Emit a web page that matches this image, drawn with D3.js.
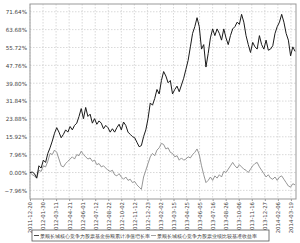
<!DOCTYPE html>
<html>
<head>
<meta charset="utf-8">
<script src="https://cdn.jsdelivr.net/npm/d3@7"></script>
<style>
body { margin: 0; background: #fff; }
text { font-family: "DejaVu Sans", sans-serif; }
</style>
</head>
<body>
<script>
var width = 300;
var height = 243;

// tick labels
var yTicks = [-7.96, 0, 7.96, 15.92, 23.88, 31.84, 39.80, 47.76, 55.72, 63.68, 71.64];
var xTicks = ["2011-12-20", "2012-01-30", "2012-03-11", "2012-04-21", "2012-06-01",
              "2012-07-12", "2012-08-22", "2012-10-02", "2012-11-12", "2012-12-23",
              "2013-02-02", "2013-03-15", "2013-04-25", "2013-06-05", "2013-07-16",
              "2013-08-26", "2013-10-06", "2013-11-16", "2013-12-27", "2014-02-06",
              "2014-03-19"];
var seriesNames = ["景顺长城核心竞争力股票基金份额累计净值增长率",
                   "景顺长城核心竞争力股票业绩比较基准收益率"];

// weekly readings (%), starting 2011-12-20
var fundValues = [0, 0.2, -0.5, -2.5, 3, 2, 5.5, 4.5, 8.5, 11,
                  14, 17.5, 20, 18, 15.5, 17, 19, 18, 20.5, 19,
                  21, 22, 25, 28.5, 24, 29, 25, 26, 22, 24,
                  21.5, 23, 22, 19.5, 21, 20, 18, 19.5, 18, 20,
                  21.5, 19, 22.5, 21, 18, 17, 16, 15.5, 13.5, 11.5,
                  12, 16, 19, 24, 31, 30, 33, 37, 35, 41,
                  45, 43, 40, 41, 35, 37, 38.5, 36, 39, 42,
                  46, 50, 56, 62, 65, 69, 65, 55, 57, 47,
                  53, 60, 64, 61, 64, 62, 59, 64, 60, 57,
                  61, 64, 65, 67, 66, 70.5, 67, 61, 57, 53.5,
                  58, 56, 55, 61, 57, 55, 59, 54.5, 55, 56.5,
                  62, 65, 67, 70.5, 67, 62, 59, 52, 56, 54];
var benchValues = [0, -1, -1.5, -2.5, 1, 0.5, 3, 2.5, 5, 8.5,
                   8, 10, 9, 6, 3, 2.5, 4, 5, 6, 7,
                   6, 8, 7.5, 9.5, 8, 7, 6, 6.5, 5, 5.5,
                   3.5, 4, 2.5, 3, 2, 1, 0.5, 1, -1, -1.5,
                   -0.5, -2, -3, -2, -3.5, -3, -4.5, -4, -5.5, -6.5,
                   -7.5, -2, 1, 4, 7, 8.5, 7.5, 10, 11, 13,
                   12.5, 10.5, 11, 9, 8.5, 7, 7.5, 5.5, 6.5, 5.5,
                   6, 7, 6.5, 8, 9, 10.5, 8, 3, -1, -4.5,
                   -3.5, -2, -3.5, -1.5, -2.5, -1, -2, 0.5, 0, 1.5,
                   3, 4.5, 3, 2, 3.5, 2.5, 1.5, 1, 0, 1.5,
                   3, 4, 4.5, 2.5, 1, -0.5, -2, -1, -2.5, -3,
                   -2, -3.5, -2, -1.5, -3, -4.5, -6, -6.5, -5, -5.5];

var parseDate = d3.timeParse("%Y-%m-%d");
var startDate = parseDate("2011-12-20");
var dates = fundValues.map(function (d, i) { return d3.timeDay.offset(startDate, i * 7); });

var margin = {left: 30, right: 4, top: 4, bottom: 44};
var chart_width = width - margin.left - margin.right;
var chart_height = height - margin.top - margin.bottom;

var svg = d3.select("body").append("svg")
            .attr("width", width)
            .attr("height", height);

var x = d3.scaleTime()
          .domain([startDate, parseDate("2014-04-04")])
          .range([0, chart_width]);
var y = d3.scaleLinear()
          .domain([-11.8, 75.1])
          .range([chart_height, 0]);

var g = svg.append("g")
           .attr("transform", "translate(" + margin.left + "," + margin.top + ")");

// grid
g.selectAll(".hgrid").data(yTicks).enter().append("line")
 .attr("x1", 0).attr("x2", chart_width)
 .attr("y1", function (d) { return y(d); })
 .attr("y2", function (d) { return y(d); })
 .attr("stroke", "#c8c8c8").attr("stroke-width", 0.7)
 .attr("stroke-dasharray", "1.5,1.5");
g.selectAll(".vgrid").data(xTicks).enter().append("line")
 .attr("y1", 0).attr("y2", chart_height)
 .attr("x1", function (d) { return x(parseDate(d)); })
 .attr("x2", function (d) { return x(parseDate(d)); })
 .attr("stroke", "#c8c8c8").attr("stroke-width", 0.7)
 .attr("stroke-dasharray", "1.5,1.5");

g.append("rect")
 .attr("width", chart_width).attr("height", chart_height)
 .attr("fill", "none").attr("stroke", "#999").attr("stroke-width", 1);

// y labels
var yAxis = d3.axisLeft(y).tickValues(yTicks).tickSize(0).tickPadding(3)
              .tickFormat(function (d) { return d3.format(".2f")(d) + "%"; });
var ya = g.append("g").call(yAxis);
ya.select(".domain").remove();
ya.selectAll("text").attr("font-size", 5.6).attr("fill", "#444");

// x labels
var xAxis = d3.axisBottom(x).tickValues(xTicks.map(parseDate)).tickSize(2)
              .tickFormat(d3.timeFormat("%Y-%m-%d"));
var xa = g.append("g").attr("transform", "translate(0," + chart_height + ")").call(xAxis);
xa.select(".domain").remove();
xa.selectAll("line").attr("stroke", "#999");
xa.selectAll("text")
  .attr("font-size", 5.4).attr("fill", "#444")
  .attr("transform", "rotate(-90)")
  .attr("text-anchor", "end")
  .attr("x", -3).attr("y", 0).attr("dy", "0.35em");

// lines
var line = d3.line()
             .x(function (d, i) { return x(dates[i]); })
             .y(function (d) { return y(d); });
g.append("path").datum(benchValues)
 .attr("d", line).attr("fill", "none")
 .attr("stroke", "#8a8a8a").attr("stroke-width", 0.9);
g.append("path").datum(fundValues)
 .attr("d", line).attr("fill", "none")
 .attr("stroke", "#1a1a1a").attr("stroke-width", 1);

// legend
var legend = svg.append("g").attr("transform", "translate(32,230)");
legend.append("rect").attr("width", 237).attr("height", 11)
      .attr("fill", "#fff").attr("stroke", "#555").attr("stroke-width", 0.8);
var legendX = [2, 119];
var legendColor = ["#1a1a1a", "#8a8a8a"];
seriesNames.forEach(function (name, i) {
    legend.append("line")
          .attr("x1", legendX[i]).attr("x2", legendX[i] + 5)
          .attr("y1", 5.5).attr("y2", 5.5)
          .attr("stroke", legendColor[i]).attr("stroke-width", 0.8);
    legend.append("text")
          .attr("x", legendX[i] + 6).attr("y", 7.5)
          .attr("font-family", "'Noto Sans CJK SC', sans-serif")
          .attr("font-size", 5).attr("fill", "#333")
          .text(name);
});
</script>
</body>
</html>
